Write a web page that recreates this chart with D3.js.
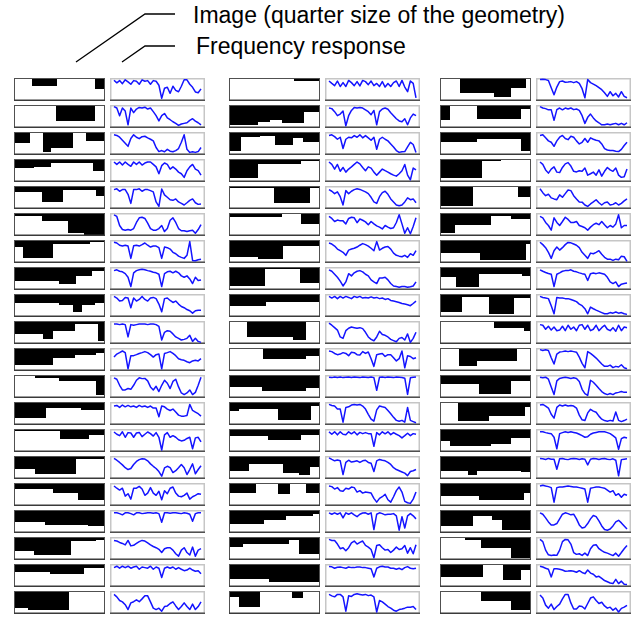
<!DOCTYPE html>
<html>
<head>
<meta charset="utf-8">
<script src="https://cdnjs.cloudflare.com/ajax/libs/d3/7.8.5/d3.min.js"></script>
<style>
  body { margin: 0; background: #fff; }
  svg { display: block; }
</style>
</head>
<body>
<svg id="chart" width="637" height="619"></svg>
<script>
// Header labels
const labelImage = "Image (quarter size of the geometry)";
const labelResponse = "Frequency response";

// Binary images: each is a step profile [xStart %, black depth from top %]
const imagesA = [
  [[0,0],[19,34],[47,0],[90,49]],
  [[0,0],[46,74],[90,0]],
  [[0,49],[17,0],[31,95],[41,71],[65,0],[80,37]],
  [[0,38],[21,32],[41,17],[88,55]],
  [[0,23],[30,75],[54,15],[91,42]],
  [[0,9],[30,32],[59,91],[77,100]],
  [[0,31],[9,82],[43,15],[84,3]],
  [[0,65],[49,80],[69,40],[86,14]],
  [[0,40],[49,51],[65,85],[75,51],[90,37]],
  [[0,57],[32,83],[43,45],[67,11],[93,95]],
  [[0,77],[9,80],[43,42],[67,28],[91,18]],
  [[0,0],[22,12],[49,25],[91,95]],
  [[0,74],[35,25],[74,35]],
  [[0,3],[50,45],[83,26]],
  [[0,60],[22,85],[69,9]],
  [[0,25],[43,43],[71,77]],
  [[0,52],[34,68],[82,72]],
  [[0,62],[21,82],[63,15],[91,12]],
  [[0,34],[39,42],[78,15]],
  [[0,78],[15,89],[61,0]]
];
const imagesB = [
  [[0,0],[72,11]],
  [[0,92],[32,77],[45,66],[58,85],[83,28]],
  [[0,88],[12,18],[34,14],[51,57],[71,22],[82,42]],
  [[0,89],[32,20],[80,5]],
  [[0,6],[49,80],[90,6]],
  [[0,15],[58,0],[80,48]],
  [[0,77],[32,88],[60,23]],
  [[0,88],[39,6],[79,75]],
  [[0,54],[40,32],[87,35]],
  [[0,0],[19,72],[71,88],[85,0]],
  [[0,0],[37,48],[85,35]],
  [[0,55],[36,72],[85,57]],
  [[0,40],[10,31],[54,85],[91,15]],
  [[0,29],[43,49],[80,26]],
  [[0,66],[21,32],[60,78],[77,89],[90,51]],
  [[0,42],[29,0],[54,51],[67,0],[85,42]],
  [[0,63],[38,45],[63,22],[93,17]],
  [[0,43],[15,28],[66,9],[78,77]],
  [[0,66],[44,83]],
  [[0,25],[10,75],[34,0],[70,28],[82,0]]
];
const imagesC = [
  [[0,0],[21,66],[60,88],[79,42],[95,0]],
  [[0,66],[10,0],[41,65],[90,15]],
  [[0,42],[40,29],[90,86]],
  [[0,89],[46,3],[67,0]],
  [[0,92],[36,0],[87,49]],
  [[0,94],[16,55],[56,9],[79,22]],
  [[0,57],[44,92],[95,15]],
  [[0,45],[17,91],[43,29],[91,38]],
  [[0,82],[24,9],[54,92],[82,17]],
  [[0,0],[60,29],[93,42]],
  [[0,0],[20,85],[40,57],[85,0]],
  [[0,40],[43,88],[79,25]],
  [[0,0],[19,89],[54,62],[94,20]],
  [[0,54],[10,77],[56,69],[79,38]],
  [[0,66],[30,89],[41,66],[90,71]],
  [[0,57],[43,80],[93,42]],
  [[0,75],[36,22],[57,45],[69,95]],
  [[0,0],[27,9],[45,51],[79,97]],
  [[0,57],[47,0],[70,75],[90,26]],
  [[0,0],[45,43],[79,86]]
];

// Frequency responses: 32 samples each, 0 = bottom of box, 100 = top
const responsesA = [
  [95,82,93,78,97,87,75,93,90,75,97,90,93,75,93,90,70,5,55,60,30,65,45,38,65,97,97,75,60,37,33,52],
  [98,91,53,91,76,8,91,68,86,94,91,95,86,91,73,53,27,53,64,42,33,23,15,5,12,15,18,30,38,26,18,8],
  [92,89,80,65,50,35,74,92,80,73,83,85,77,70,62,29,9,14,8,20,11,8,14,24,55,92,20,5,8,5,9,29],
  [91,79,91,76,91,79,70,91,79,91,76,86,91,91,79,67,33,73,86,79,56,67,56,41,33,15,48,67,79,56,48,26],
  [88,92,80,88,88,65,20,88,88,92,80,88,88,83,77,27,5,91,62,50,38,35,42,27,20,12,23,35,42,23,15,17],
  [97,89,44,24,21,24,21,29,59,82,85,79,56,29,21,21,29,44,14,29,70,82,59,29,18,18,14,18,21,6,24,48],
  [95,91,80,76,80,76,15,77,80,76,83,91,80,71,76,76,68,15,71,68,61,45,38,26,20,15,30,98,5,3,8,11],
  [88,92,85,82,73,55,9,77,88,92,95,92,88,85,80,77,70,9,73,82,85,77,85,77,62,55,62,47,24,55,39,42],
  [94,86,71,74,89,86,38,86,71,79,94,79,71,86,89,83,56,18,83,86,74,64,71,56,44,38,29,23,11,23,26,26],
  [91,91,88,91,88,27,88,85,88,91,91,91,88,91,91,88,79,12,50,58,55,42,27,20,12,15,20,35,5,20,5,0],
  [61,76,83,91,83,3,68,68,73,79,83,88,83,73,61,73,76,3,79,83,88,79,68,53,48,45,38,33,42,45,42,53],
  [92,85,55,32,32,39,35,55,80,92,88,89,77,47,32,50,24,55,80,65,39,74,85,47,17,9,17,32,9,20,55,95],
  [86,89,79,91,82,89,82,86,79,89,82,86,79,86,76,76,33,86,82,71,64,71,56,41,36,36,39,94,64,56,48,36],
  [91,80,73,92,65,88,86,65,86,89,68,80,91,83,71,88,65,2,77,88,65,73,65,53,47,50,59,65,8,62,65,42],
  [94,85,74,62,48,39,44,64,79,88,92,91,82,67,55,44,29,6,47,55,48,24,33,48,64,48,14,39,67,18,39,58],
  [91,80,71,80,41,53,26,80,80,89,76,45,56,83,56,45,65,23,68,53,80,86,56,41,38,45,56,26,38,45,53,50],
  [92,92,88,82,92,92,88,82,92,92,88,90,92,92,90,92,88,45,92,92,90,92,92,90,88,92,90,85,50,88,92,92],
  [89,86,79,74,67,89,62,65,74,83,89,86,77,67,59,53,45,29,48,53,53,41,23,11,41,53,29,17,56,11,41,48],
  [88,95,85,95,88,95,85,91,95,80,91,88,85,95,80,91,85,39,85,91,85,91,80,88,80,73,76,85,76,70,73,58],
  [89,77,59,52,38,14,47,53,62,53,67,82,82,52,21,14,21,6,29,32,44,52,32,14,29,47,29,14,41,14,29,52]
];
const responsesB = [
  [91,79,68,91,64,83,64,94,83,68,88,67,94,88,73,91,68,79,64,88,61,79,64,83,91,64,94,61,38,91,79,8],
  [91,88,73,53,61,76,3,53,79,94,91,94,91,82,73,58,79,8,73,86,91,85,68,53,38,27,23,38,8,42,61,53],
  [89,92,83,70,80,24,70,80,77,88,80,92,77,88,77,65,80,20,70,80,70,62,47,32,14,5,8,9,32,55,44,5],
  [91,79,56,79,45,64,41,56,67,79,91,82,64,48,67,61,41,26,41,56,48,41,33,26,21,33,48,79,26,3,61,52],
  [88,80,68,77,53,12,83,68,80,88,92,89,83,77,68,50,27,20,53,73,80,65,42,27,12,8,12,27,47,38,42,23],
  [89,79,64,71,67,67,52,79,85,82,58,76,70,62,48,64,52,42,36,27,44,36,29,33,59,97,52,6,33,3,39,82],
  [91,86,76,61,53,45,30,56,61,65,71,80,88,83,76,65,53,98,56,65,71,74,61,41,30,26,23,30,20,38,30,53],
  [92,85,70,55,36,12,32,73,62,77,85,88,82,70,62,42,32,24,52,52,55,42,24,12,9,6,9,9,6,8,12,32],
  [94,86,94,83,94,86,94,89,83,94,89,94,86,89,86,92,86,89,83,86,79,83,74,71,68,64,59,56,53,48,59,71],
  [95,85,73,61,27,20,58,70,76,73,70,73,68,50,27,15,8,27,55,39,35,27,15,9,3,20,24,12,42,0,20,50],
  [91,88,79,73,76,83,79,68,85,83,73,71,88,79,86,53,15,73,76,79,64,73,73,58,42,53,91,8,68,64,53,58],
  [95,93,96,94,96,93,95,96,94,96,95,93,96,95,94,96,93,30,95,96,94,96,95,93,96,95,94,90,10,92,95,96],
  [94,89,86,71,71,6,79,82,91,94,91,94,86,71,45,21,11,67,86,82,79,64,48,30,15,11,15,6,79,15,9,3],
  [92,80,92,77,92,80,77,92,82,92,77,89,83,88,83,83,20,88,77,92,82,92,78,88,80,73,62,73,85,73,83,80],
  [97,89,82,86,82,14,74,85,76,79,82,74,82,85,74,70,29,82,89,85,82,74,64,48,39,33,27,21,9,29,33,39],
  [91,88,76,83,68,65,80,76,86,83,61,68,56,61,59,56,30,11,30,38,50,23,11,38,68,86,61,15,8,5,26,61],
  [92,85,92,85,92,67,92,85,92,82,73,85,91,92,85,92,9,85,92,88,82,85,85,88,77,6,73,17,77,88,77,62],
  [94,89,89,71,48,53,38,53,77,86,71,79,86,64,56,44,3,64,68,53,41,44,29,41,56,44,48,64,26,53,23,68],
  [93,92,85,90,91,88,85,91,88,88,91,91,88,88,85,82,42,85,92,95,91,91,85,85,80,85,78,88,93,85,82,85],
  [89,82,77,89,89,77,6,82,79,89,92,89,86,89,83,86,77,2,59,52,41,29,21,11,6,14,17,21,26,26,29,14]
];
const responsesC = [
  [98,100,98,94,58,23,61,88,91,85,86,88,83,88,79,53,8,98,83,76,68,58,48,33,15,38,18,30,12,38,15,8],
  [98,91,88,82,82,30,83,91,82,91,86,91,83,86,79,53,15,45,61,42,27,18,8,8,12,8,12,15,8,15,8,18],
  [89,92,77,62,55,35,62,80,89,74,68,85,80,62,47,55,74,55,77,70,65,62,47,24,17,14,14,11,9,20,39,55],
  [91,79,52,36,56,67,41,39,64,82,88,71,45,42,48,45,61,26,33,41,26,52,21,45,64,52,45,61,26,15,18,56],
  [92,73,58,65,47,42,38,62,50,68,86,83,58,42,27,26,12,5,17,27,38,23,12,23,27,12,15,23,12,20,32,42],
  [89,82,59,44,21,82,59,44,64,85,74,59,59,64,44,39,33,21,36,48,55,48,64,48,33,44,36,52,97,33,44,44],
  [95,83,68,45,15,53,71,56,68,83,94,92,86,80,68,45,30,15,41,38,45,53,35,20,11,11,5,11,8,26,23,0],
  [92,85,79,74,70,9,70,77,85,88,88,92,85,82,77,73,70,39,73,76,73,77,74,70,55,32,24,32,9,21,24,27],
  [94,89,86,83,48,8,89,86,86,83,83,79,74,68,56,48,33,8,41,33,26,20,14,8,8,14,11,17,11,14,8,5],
  [88,85,65,80,61,76,58,61,80,58,85,65,76,58,85,88,65,85,58,65,85,58,73,85,65,58,73,55,85,58,76,73],
  [98,94,97,94,58,27,76,86,88,91,88,91,88,85,61,30,8,88,79,68,56,42,27,15,15,21,9,15,12,23,8,3],
  [95,92,95,85,47,9,77,89,92,95,92,89,92,89,74,35,14,5,80,70,55,39,24,14,9,14,9,17,20,24,20,20],
  [91,94,86,76,45,26,79,91,86,91,86,89,86,76,41,18,14,52,70,61,55,36,21,14,11,15,12,56,15,9,14,21],
  [92,92,88,85,83,65,8,83,88,92,89,92,89,86,80,73,65,68,80,86,89,92,92,92,88,83,73,62,5,58,65,61],
  [94,92,89,94,90,90,40,92,94,90,88,92,94,92,89,92,90,62,90,94,92,89,92,94,90,88,92,85,8,88,90,92],
  [91,95,91,88,83,11,83,86,86,89,91,89,86,86,83,80,76,11,80,83,86,86,83,80,71,61,68,45,53,35,50,45],
  [92,85,67,47,32,32,39,62,85,92,88,82,85,62,32,17,21,39,62,79,73,52,27,9,6,12,27,47,55,42,27,12],
  [94,83,41,18,14,17,15,41,83,94,92,71,29,20,23,15,26,14,48,65,68,48,38,30,26,20,14,26,11,29,48,64],
  [95,91,85,80,42,83,82,80,76,70,71,73,70,65,73,64,58,76,61,55,42,45,35,24,18,12,9,30,9,21,6,5],
  [86,71,36,21,41,14,29,41,67,89,89,47,17,17,32,29,17,44,71,77,59,44,50,32,21,26,11,21,2,20,26,35]
];

// Layout
const columnLeft = [14, 229, 440];
const images = [imagesA, imagesB, imagesC];
const responses = [responsesA, responsesB, responsesC];
const nRows = 20;
const boxH = 23, imgW = 91, respOffset = 96, respW = 95;

const svg = d3.select("#chart");

// Header with leader lines
const header = svg.append("g");
header.append("polyline")
  .attr("points", "76,62 145,14 175,14")
  .attr("fill", "none").attr("stroke", "#000").attr("stroke-width", 1.3);
header.append("polyline")
  .attr("points", "122,62 145,46 175,46")
  .attr("fill", "none").attr("stroke", "#000").attr("stroke-width", 1.3);
header.append("text")
  .attr("x", 193).attr("y", 23)
  .attr("font-family", "'Liberation Sans', Arial, sans-serif")
  .attr("font-size", 23).attr("fill", "#000")
  .text(labelImage);
header.append("text")
  .attr("x", 196).attr("y", 54)
  .attr("font-family", "'Liberation Sans', Arial, sans-serif")
  .attr("font-size", 23).attr("fill", "#000")
  .text(labelResponse);

const rowY = d3.scaleLinear().domain([0, nRows - 1]).range([78, 78 + 27 * (nRows - 1)]);

// Scales inside one image box and one response box
const imgX = d3.scaleLinear().domain([0, 100]).range([1, imgW - 1]);
const imgY = d3.scaleLinear().domain([0, 100]).range([1, boxH - 1.5]);
const respX = d3.scaleLinear().domain([0, 31]).range([4, respW - 4]);
const respY = d3.scaleLinear().domain([0, 100]).range([boxH - 1.6, 1.2]);

const line = d3.line()
  .x((d, i) => respX(i))
  .y(d => respY(d));

// Outline of the black region of one profile, as a single path
function profilePath(profile) {
  const p = d3.path();
  profile.forEach((s, i) => {
    const x0 = imgX(s[0]);
    const x1 = imgX(i + 1 < profile.length ? profile[i + 1][0] : 100);
    if (s[1] > 0) {
      p.rect(Math.round(x0), imgY(0), Math.round(x1) - Math.round(x0), Math.round(imgY(s[1]) - imgY(0)));
    }
  });
  return p.toString();
}

columnLeft.forEach((left, c) => {
  for (let r = 0; r < nRows; r++) {
    const g = svg.append("g").attr("transform", `translate(${left},${rowY(r)})`);

    // Image box
    g.append("rect").attr("x", 0).attr("y", 0).attr("width", imgW).attr("height", boxH).attr("fill", "#fff");
    g.append("path")
      .attr("d", profilePath(images[c][r]))
      .attr("fill", "#000")
      .attr("shape-rendering", "crispEdges");
    g.append("rect").attr("x", 0.5).attr("y", 0.5).attr("width", imgW - 1).attr("height", boxH - 1)
      .attr("fill", "none").attr("stroke", "#505050").attr("stroke-width", 1);
    g.append("line").attr("x1", 0).attr("x2", imgW).attr("y1", boxH - 0.75).attr("y2", boxH - 0.75)
      .attr("stroke", "#3a3a3a").attr("stroke-width", 1.5);

    // Response box
    const rg = g.append("g").attr("transform", `translate(${respOffset},0)`);
    rg.append("rect").attr("x", 0.75).attr("y", 0.75).attr("width", respW - 1.5).attr("height", boxH - 1.5)
      .attr("fill", "#fff").attr("stroke", "#c6c6c6").attr("stroke-width", 1.5);
    rg.append("line").attr("x1", 0).attr("x2", respW).attr("y1", boxH - 0.75).attr("y2", boxH - 0.75)
      .attr("stroke", "#505050").attr("stroke-width", 1.5);
    rg.append("path")
      .datum(responses[c][r])
      .attr("d", line)
      .attr("fill", "none")
      .attr("stroke", "#1414ff")
      .attr("stroke-width", 1.5)
      .attr("stroke-linejoin", "round");
  }
});
</script>
</body>
</html>
